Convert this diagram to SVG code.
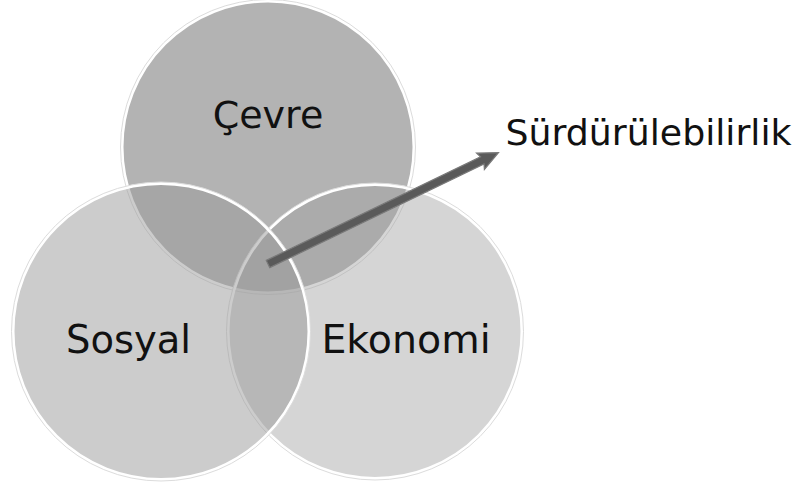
<svg xmlns="http://www.w3.org/2000/svg" width="801" height="488" viewBox="0 0 801 488">
  <style>
    .ring { stroke: #ffffff; stroke-width: 3; }
    .edge { fill: none; stroke: #dcdcdc; stroke-width: 1; }
    .label { font-family: "DejaVu Sans", "Noto Sans", sans-serif; fill: #111111; text-anchor: middle; }
  </style>
  <rect width="801" height="488" fill="#ffffff"/>

  <!-- environment circle (bottom layer) -->
  <g id="cevre">
    <circle cx="268" cy="147" r="146" fill="#b3b3b3" class="ring"/>
    <circle cx="268" cy="147" r="147.5" class="edge"/>
    <text x="268" y="128" font-size="38" class="label">Çevre</text>
  </g>

  <!-- economy circle -->
  <g id="ekonomi">
    <circle cx="375" cy="331.5" r="147" fill="#a2a2a2" fill-opacity="0.45" class="ring"/>
    <circle cx="375" cy="331.5" r="148.5" class="edge"/>
    <text x="406" y="353" font-size="39.5" class="label">Ekonomi</text>
  </g>

  <!-- social circle (top layer) -->
  <g id="sosyal">
    <circle cx="161" cy="331.5" r="148" fill="#999999" fill-opacity="0.5" class="ring"/>
    <circle cx="161" cy="331.5" r="149.5" class="edge"/>
    <text x="128.5" y="353" font-size="38.5" class="label">Sosyal</text>
  </g>

  <!-- connector pointing to the sustainability label -->
  <g id="connectors">
    <g transform="translate(268,264) rotate(-25.8)">
      <polygon points="0,-4 238,-4 236,-9 256,0 236,9 238,4 0,4" fill="#5a5a5a" stroke="#7a7a7a" stroke-width="1.2" stroke-linejoin="miter"/>
    </g>
  </g>

  <g id="surdurulebilirlik">
    <text x="648.5" y="145" font-size="36.3" class="label">Sürdürülebilirlik</text>
  </g>
</svg>
